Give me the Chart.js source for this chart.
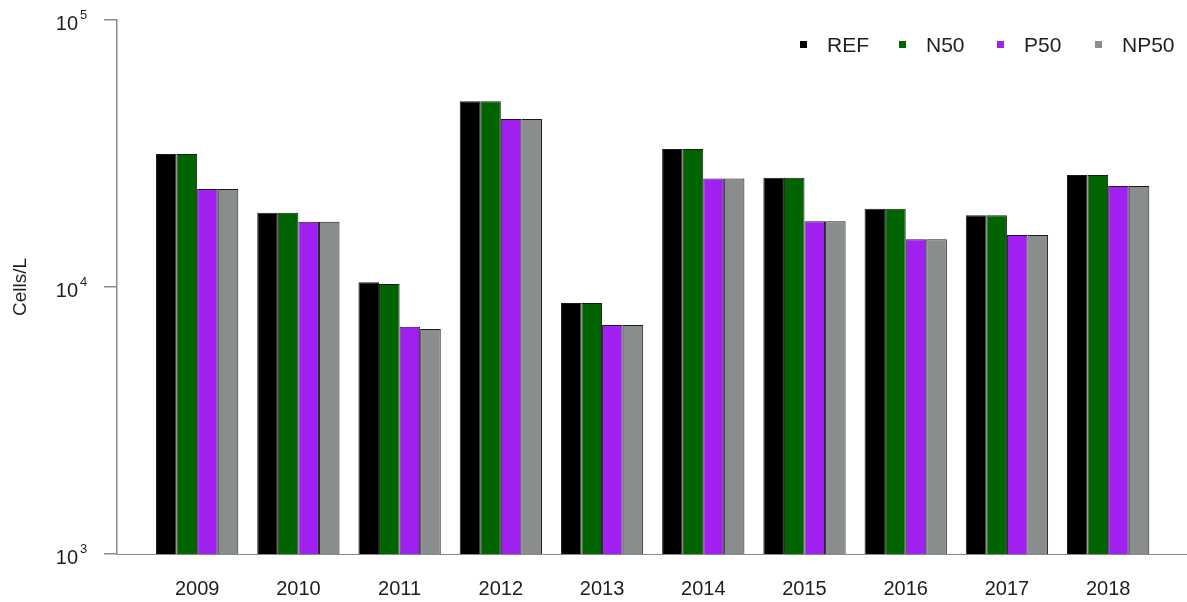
<!DOCTYPE html>
<html>
<head>
<meta charset="utf-8">
<script src="https://cdn.jsdelivr.net/npm/chart.js@4.4.1/dist/chart.umd.min.js"></script>
<style>
  html, body { margin: 0; padding: 0; background: #fff; }
</style>
</head>
<body>
<canvas id="cellsChart" width="1187" height="602"></canvas>
<script>
// values (cells per litre, log axis)
const years = [2009, 2010, 2011, 2012, 2013, 2014, 2015, 2016, 2017, 2018];
const refValues  = [31500, 18980, 10420, 49600, 8710, 32900, 25670, 19650, 18550, 26270];
const n50Values  = [31500, 18980, 10260, 49600, 8710, 32900, 25670, 19650, 18550, 26270];
const p50Values  = [23300, 17570, 7100, 42600, 7210, 25500, 17620, 15100, 15660, 23900];
const np50Values = [23300, 17570, 6960, 42600, 7210, 25500, 17620, 15100, 15660, 23900];
const yTicks = [1000, 10000, 100000];

const FONT = "'Liberation Sans', Arial, sans-serif";
const TEXT = '#1e1e1e';
const AXIS = '#8a8a8a';

function toPoints(values) {
  return values.map((v, i) => ({ x: years[i], y: v }));
}

// draws 10^n tick labels and the legend
const extras = {
  id: 'extras',
  afterDraw(chart) {
    const ctx = chart.ctx;
    const yScale = chart.scales.y;
    ctx.save();
    ctx.fillStyle = TEXT;
    yTicks.forEach((v) => {
      const py = yScale.getPixelForValue(v);
      ctx.font = '20px ' + FONT;
      ctx.textAlign = 'right';
      ctx.textBaseline = 'middle';
      ctx.fillText('10', 78, py + 4);
      ctx.font = '13px ' + FONT;
      ctx.textAlign = 'left';
      ctx.fillText(String(Math.round(Math.log10(v))), 80, py - 5);
    });

    const legendX = [800, 899, 997, 1095];
    chart.data.datasets.forEach((ds, i) => {
      const x = legendX[i];
      ctx.fillStyle = ds.backgroundColor;
      ctx.fillRect(x, 41, 7, 7);
      ctx.fillStyle = TEXT;
      ctx.font = '21px ' + FONT;
      ctx.textAlign = 'left';
      ctx.textBaseline = 'middle';
      ctx.fillText(ds.label, x + 27, 46);
    });
    ctx.restore();
  }
};

const ctx = document.getElementById('cellsChart').getContext('2d');
new Chart(ctx, {
  type: 'bar',
  data: {
    datasets: [
      { label: 'REF',  data: toPoints(refValues),  backgroundColor: '#000000' },
      { label: 'N50',  data: toPoints(n50Values),  backgroundColor: '#006400' },
      { label: 'P50',  data: toPoints(p50Values),  backgroundColor: '#a020f0' },
      { label: 'NP50', data: toPoints(np50Values), backgroundColor: '#898d8d' },
    ],
  },
  options: {
    responsive: false,
    animation: false,
    layout: { padding: { top: 20, right: 0, bottom: 1, left: 0 } },
    datasets: {
      bar: {
        categoryPercentage: 0.813,
        barPercentage: 1,
        borderColor: '#1a1a1a',
        borderWidth: 1,
        borderSkipped: 'bottom',
      },
    },
    plugins: {
      legend: { display: false },
      tooltip: { enabled: false },
    },
    scales: {
      x: {
        type: 'linear',
        offset: false,
        min: 2008.208,
        max: 2018.779,
        afterBuildTicks: (scale) => {
          scale.ticks = years.map((y) => ({ value: y }));
        },
        afterFit: (scale) => { scale.height = 47; },
        ticks: {
          color: TEXT,
          font: { family: FONT, size: 20 },
          padding: 23,
          autoSkip: false,
          maxRotation: 0,
          callback: (v) => String(v),
        },
        grid: { display: false, drawTicks: false, offset: false },
        border: { display: true, color: AXIS, width: 1 },
      },
      y: {
        type: 'logarithmic',
        min: 1000,
        max: 100000,
        afterBuildTicks: (scale) => {
          scale.ticks = yTicks.map((v) => ({ value: v }));
        },
        afterFit: (scale) => { scale.width = 117; },
        ticks: { display: false },
        grid: {
          drawOnChartArea: false,
          drawTicks: true,
          tickLength: 13,
          color: AXIS,
          lineWidth: 1.5,
        },
        border: { display: true, color: AXIS, width: 1.5 },
        title: {
          display: true,
          text: 'Cells/L',
          color: TEXT,
          font: { family: FONT, size: 19 },
          padding: { top: 9, bottom: 0 },
        },
      },
    },
  },
  plugins: [extras],
});
</script>
</body>
</html>
